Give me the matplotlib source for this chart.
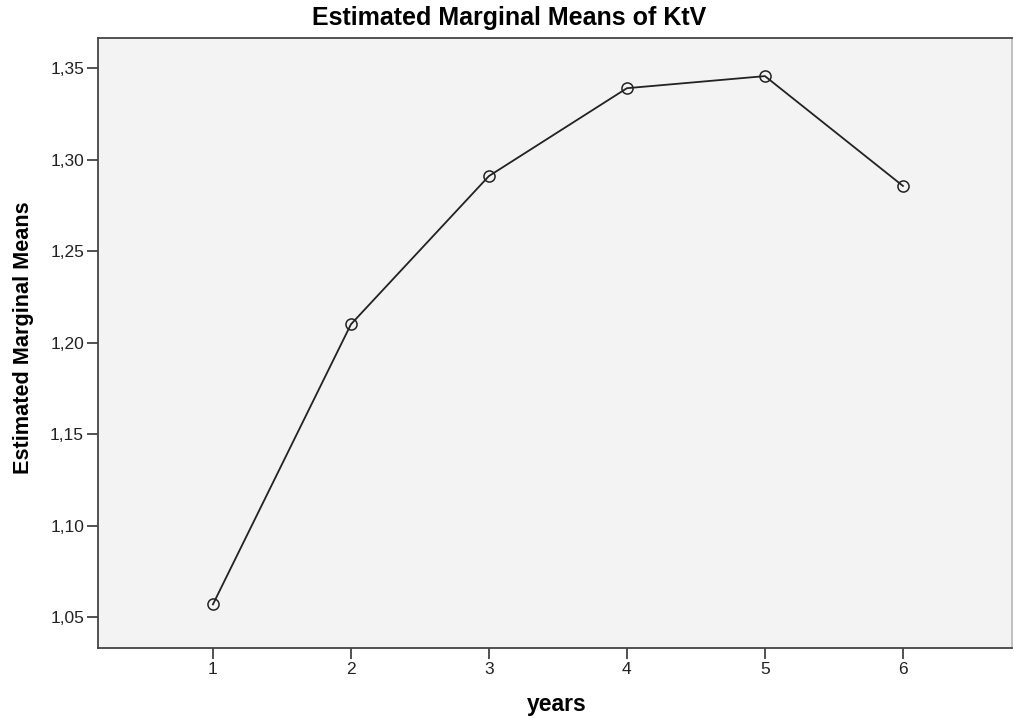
import matplotlib
matplotlib.use("Agg")
import matplotlib.pyplot as plt
from matplotlib.ticker import FuncFormatter

# estimated marginal means of KtV by year
years = [1, 2, 3, 4, 5, 6]
means = [1.057, 1.210, 1.291, 1.339, 1.3456, 1.2856]
yticks = [1.05, 1.10, 1.15, 1.20, 1.25, 1.30, 1.35]

plt.rcParams['font.family'] = ['Liberation Sans', 'DejaVu Sans']

fig = plt.figure(figsize=(10.14, 7.19), dpi=100)
ax = fig.add_axes([0.0966, 0.0988, 0.9014, 0.8483])
ax.set_facecolor('#f3f3f3')

ax.plot(years, means, color='#222222', linewidth=1.3,
        marker='o', markersize=8, markerfacecolor='none',
        markeredgecolor='#222222', markeredgewidth=1.1)

ax.set_xlim(0.167, 6.79)
ax.set_ylim(1.0332, 1.3664)
ax.set_xticks(years)
ax.set_yticks(yticks)
ax.yaxis.set_major_formatter(FuncFormatter(lambda v, p: f"{v:.2f}".replace('.', ',')))

for s in ax.spines.values():
    s.set_color('#444444')
    s.set_linewidth(1.3)
ax.spines['right'].set_color('#bbbbbb')
ax.tick_params(direction='out', length=8, width=1.2, color='#333333',
               labelsize=12.5, labelcolor='#222222', pad=2)

fig.text(0.502, 0.975, "Estimated Marginal Means of KtV", fontsize=18,
         fontweight='bold', ha='center', va='center')
fig.text(0.549, 0.02, "years", fontsize=16.5, fontweight='bold',
         ha='center', va='center')
fig.text(0.0227, 0.53, "Estimated Marginal Means", fontsize=15.6, fontweight='bold',
         ha='center', va='center', rotation=90)

fig.savefig("out.png", dpi=100)
